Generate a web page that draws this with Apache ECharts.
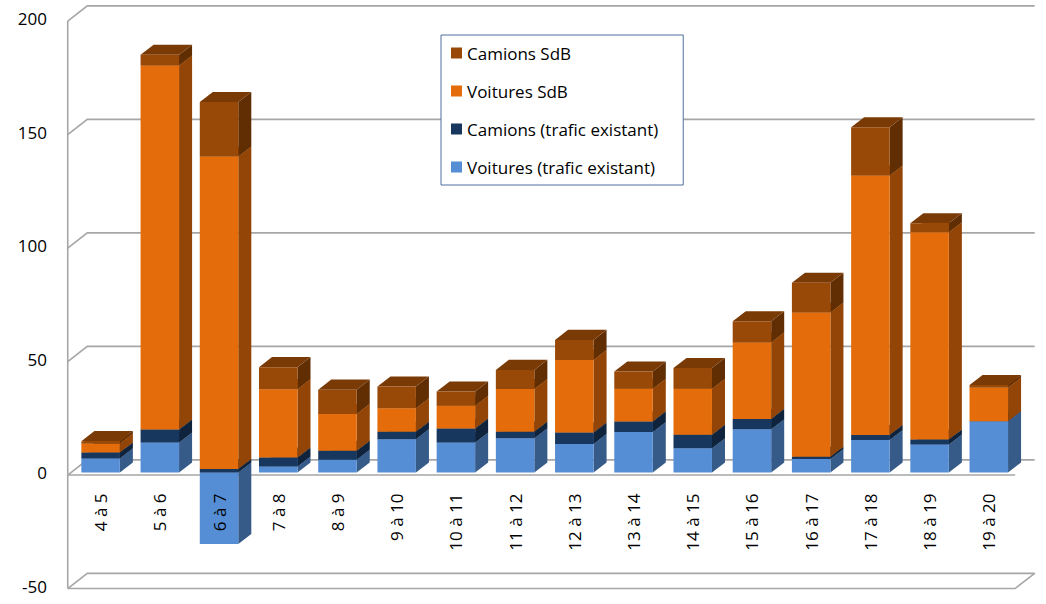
<!DOCTYPE html>
<html><head><meta charset="utf-8">
<script src="https://cdn.jsdelivr.net/npm/echarts@6/dist/echarts.min.js"></script>
<style>html,body{margin:0;padding:0;background:#fff}#c{width:1046px;height:604px}</style>
</head><body><div id="c"></div>
<script>
const categories = ['4 à 5','5 à 6','6 à 7','7 à 8','8 à 9','9 à 10','10 à 11','11 à 12','12 à 13','13 à 14','14 à 15','15 à 16','16 à 17','17 à 18','18 à 19','19 à 20'];
const voituresExistant = [6.2, 13.2, -31.5, 2.6, 5.6, 14.7, 13.2, 15.1, 12.6, 17.8, 10.7, 19.0, 5.9, 14.3, 12.3, 22.6];
const camionsExistant  = [2.6, 5.7, 1.5, 4.0, 4.0, 3.2, 6.2, 2.9, 5.0, 4.7, 5.9, 4.6, 1.0, 2.2, 2.2, 0];
const voituresSdB      = [4.0, 160.4, 137.7, 30.1, 16.2, 10.4, 10.0, 18.8, 32.0, 14.4, 20.3, 33.7, 63.6, 114.3, 91.3, 14.9];
const camionsSdB       = [1.0, 4.7, 24.0, 9.7, 10.7, 9.6, 6.3, 8.4, 8.8, 7.6, 9.1, 9.3, 13.1, 21.3, 4.0, 1.0];
const yTicks = [-50, 0, 50, 100, 150, 200];
const seriesNames = ['Voitures (trafic existant)', 'Camions (trafic existant)', 'Voitures SdB', 'Camions SdB'];
const seriesColors = ['#558ed5', '#17375e', '#e46c0a', '#984807'];

const FONT = 'Open Sans';
const BAR_RATIO = 0.65, DEPTH_X = 0.22, DEPTH_Y = 0.17;
const GRID = { left: 71, right: 27.6, top: 18.5, bottom: 18 };
const Y_MIN = yTicks[0], Y_MAX = yTicks[yTicks.length - 1];
// distance (px) from the bottom of the grid to the zero line, so the category axis sits on zero
const ZERO_OFFSET = (604 - GRID.top - GRID.bottom) * (0 - Y_MIN) / (Y_MAX - Y_MIN);

function shade(hex, f) {
  const n = parseInt(hex.slice(1), 16);
  const r = Math.round(((n >> 16) & 255) * f), g = Math.round(((n >> 8) & 255) * f), b = Math.round((n & 255) * f);
  return 'rgb(' + r + ',' + g + ',' + b + ')';
}

const seriesValues = [voituresExistant, camionsExistant, voituresSdB, camionsSdB];
const posAcc = categories.map(() => 0), negAcc = categories.map(() => 0);
const stacked = seriesValues.map(arr => arr.map((v, i) => {
  let base, top;
  if (v >= 0) { base = posAcc[i]; top = base + v; posAcc[i] = top; }
  else { base = negAcc[i]; top = base + v; negAcc[i] = top; }
  return [i, base, top];
}));

function renderBar(color) {
  const sideC = shade(color, 0.64), topC = shade(color, 0.8);
  return function (params, api) {
    const band = api.size([1, 0])[0];
    const w = band * BAR_RATIO, dx = band * DEPTH_X, dy = band * DEPTH_Y;
    const pb = api.coord([api.value(0), api.value(1)]);
    const pt = api.coord([api.value(0), api.value(2)]);
    const x0 = pb[0] - w / 2, x1 = x0 + w;
    const yA = Math.min(pb[1], pt[1]), yB = Math.max(pb[1], pt[1]);
    return { type: 'group', children: [
      { type: 'polygon', shape: { points: [[x1, yB], [x1, yA], [x1 + dx, yA - dy], [x1 + dx, yB - dy]] }, style: { fill: sideC } },
      { type: 'polygon', shape: { points: [[x0, yA], [x1, yA], [x1 + dx, yA - dy], [x0 + dx, yA - dy]] }, style: { fill: topC } },
      { type: 'rect', shape: { x: x0, y: yA, width: w, height: yB - yA }, style: { fill: color } }
    ]};
  };
}

function renderFrame(params, api) {
  const cs = params.coordSys;
  const band = api.size([1, 0])[0];
  const dxW = band * DEPTH_X * 1.5, dyW = band * DEPTH_Y * 1.5;
  const fx = -dxW / 6, fy = dyW / 6, bx = dxW * 5 / 6, by = -dyW * 5 / 6;
  const v = api.value(1);
  const y = api.coord([0, v])[1];
  const yTop = api.coord([0, Y_MAX])[1];
  const L = cs.x, R = cs.x + cs.width;
  const st = { stroke: '#a6a6a6', lineWidth: 1.6, fill: null };
  const lines = [[[L + fx, y + fy], [L + bx, y + by], [R + bx, y + by]]];
  if (v === Y_MIN) {
    lines.push([[L + fx, y + fy], [R + fx, y + fy], [R + bx, y + by]]);
    lines.push([[L + fx, y + fy], [L + fx, yTop + fy]]);
  }
  if (v === 0) lines.push([[L + fx, y + fy], [R + fx, y + fy]]);
  return { type: 'group', children: lines.map(p => ({ type: 'polyline', shape: { points: p }, style: st })) };
}

const series = [{
  type: 'custom', name: '_frame', coordinateSystem: 'cartesian2d', silent: true, z: 1,
  data: yTicks.map(v => [0, v]), encode: { x: 0, y: 1 }, renderItem: renderFrame
}];
seriesNames.forEach((name, s) => {
  series.push({
    type: 'custom', name: name, coordinateSystem: 'cartesian2d', z: 2,
    itemStyle: { color: seriesColors[s] },
    data: stacked[s], encode: { x: 0, y: [1, 2] },
    renderItem: renderBar(seriesColors[s])
  });
});

const chart = echarts.init(document.getElementById('c'), null, { renderer: 'svg' });
chart.setOption({
  animation: false,
  backgroundColor: '#fff',
  textStyle: { fontFamily: FONT },
  grid: Object.assign({ containLabel: false, outerBoundsMode: 'none' }, GRID),
  xAxis: {
    type: 'category', data: categories, z: 10, position: 'bottom', offset: -ZERO_OFFSET,
    axisLine: { show: false, onZero: false },
    axisTick: { show: false },
    axisLabel: { rotate: 90, margin: 21, fontSize: 17, fontFamily: FONT, color: '#000' }
  },
  yAxis: {
    type: 'value', min: Y_MIN, max: Y_MAX, interval: 50,
    axisLine: { show: false }, axisTick: { show: false }, splitLine: { show: false },
    axisLabel: { margin: 24, fontSize: 17, fontFamily: FONT, color: '#000', padding: [5, 0, 0, 0] }
  },
  legend: {
    orient: 'vertical', left: 441, top: 35,
    data: seriesNames.slice().reverse(),
    icon: 'rect', itemWidth: 11, itemHeight: 11, itemGap: 18,
    padding: [8, 25, 8, 10],
    borderColor: '#4f6f9f', borderWidth: 1, backgroundColor: '#fff',
    selectedMode: false,
    textStyle: { fontSize: 17, fontFamily: FONT, color: '#000', lineHeight: 20 }
  },
  series: series
});
</script></body></html>
